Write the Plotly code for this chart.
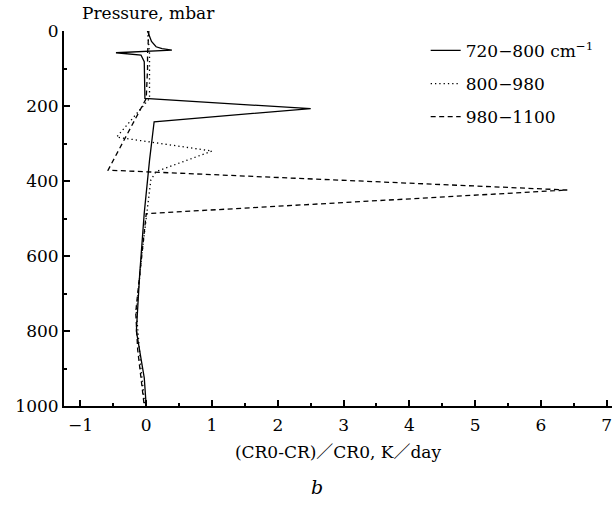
import plotly.graph_objects as go

# Data
p_solid = [0, 15, 28, 42, 47, 51, 58, 64, 73, 82, 180, 207, 242, 345, 485, 650, 800, 925, 1000]
x_solid = [0.02, 0.05, 0.08, 0.15, 0.24, 0.39, -0.46, -0.08, -0.05, -0.03, -0.02, 2.5, 0.12, 0.05, -0.03, -0.10, -0.15, -0.03, 0.0]

p_dot = [0, 20, 60, 100, 180, 283, 320, 375, 397, 470, 600, 750, 900, 1000]
x_dot = [0.02, 0.03, 0.05, 0.05, 0.05, -0.45, 1.0, 0.15, 0.07, 0.02, -0.07, -0.15, -0.08, -0.02]

p_dash = [0, 20, 60, 100, 180, 371, 424, 487, 550, 650, 750, 850, 950, 1000]
x_dash = [0.04, 0.03, 0.02, 0.02, 0.0, -0.58, 6.4, 0.0, -0.04, -0.10, -0.16, -0.13, -0.06, -0.03]

series_names = ["720\u2212800 cm<sup>\u22121</sup>", "800\u2212980", "980\u22121100"]
x_ticks = [-1, 0, 1, 2, 3, 4, 5, 6, 7]
y_ticks = [0, 200, 400, 600, 800, 1000]

FONT = "DejaVu Serif, Noto Sans CJK SC, serif"

fig = go.Figure()
fig.add_trace(go.Scatter(x=x_solid, y=p_solid, mode="lines", name=series_names[0],
                         legendgroup="a", line=dict(color="black", width=1.3)))
fig.add_trace(go.Scatter(x=x_dot, y=p_dot, mode="lines", name=series_names[1],
                         legendgroup="b", line=dict(color="black", width=1.3, dash="1.3px,3px")))
fig.add_trace(go.Scatter(x=x_dash, y=p_dash, mode="lines", name=series_names[2],
                         legendgroup="c", line=dict(color="black", width=1.3, dash="5px,3.5px")))

axis_common = dict(
    showline=True, linewidth=2, linecolor="black", mirror=False,
    showgrid=False, zeroline=False, ticks="inside", ticklen=6, tickwidth=1.5,
    tickcolor="black", automargin=False, ticklabeloverflow="allow",
    tickfont=dict(family=FONT, size=17, color="black"),
)

fig.update_layout(
    template="none",
    width=612, height=506,
    margin=dict(l=64, r=0, t=31, b=100),
    paper_bgcolor="white", plot_bgcolor="white",
    font=dict(family=FONT, size=17, color="black"),
    showlegend=True,
    legend=dict(x=0.66, y=0.995, xanchor="left", yanchor="top",
                bgcolor="rgba(0,0,0,0)", borderwidth=0,
                traceorder="grouped", tracegroupgap=8,
                font=dict(family=FONT, size=17, color="black")),
    xaxis=dict(range=[-1.25, 7.08], tickvals=x_ticks,
               minor=dict(ticks="inside", ticklen=3, tickwidth=1.5, tickcolor="black", dtick=0.5, tick0=-1),
               title=dict(text="(CR0-CR)\uff0fCR0, K\uff0fday", standoff=12,
                          font=dict(family=FONT, size=17, color="black")),
               ticklabelstandoff=3,
               **axis_common),
    yaxis=dict(range=[1000, 0], tickvals=y_ticks,
               minor=dict(ticks="inside", ticklen=3, tickwidth=1.5, tickcolor="black", dtick=100, tick0=0),
               **axis_common),
    annotations=[
        dict(text="Pressure, mbar", xref="paper", yref="paper", x=0.029, y=1.048,
             xanchor="left", yanchor="middle", showarrow=False,
             font=dict(family=FONT, size=17, color="black")),
        dict(text="<i>b</i>", xref="paper", yref="paper", x=0.462, y=-0.216,
             xanchor="center", yanchor="middle", showarrow=False,
             font=dict(family=FONT, size=19, color="black")),
    ],
)

fig.write_html("out.html")
